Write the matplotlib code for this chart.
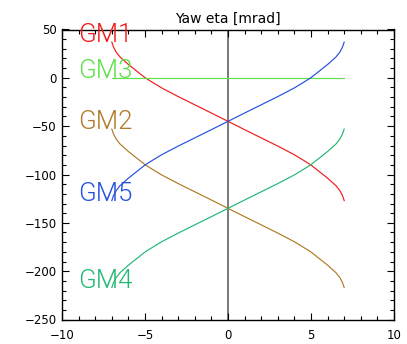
import matplotlib
matplotlib.use('Agg')
import matplotlib.pyplot as plt
from matplotlib.ticker import MultipleLocator

# sample positions along the eta axis
eta = [-7, -6.9, -6.75, -6.5, -6, -5.5, -5, -4.5, -4, -3, -2, -1, 0,
       1, 2, 3, 4, 4.5, 5, 5.5, 6, 6.5, 6.75, 6.9, 7]

gm1 = [37, 32, 27, 21.5, 13.8, 7, 0.2, -5.2, -10.4, -19.4, -27.9, -36.4, -45,
       -53.6, -62.1, -70.6, -79.6, -84.8, -90.2, -97, -103.8, -111.5, -117, -122, -127]
gm5 = [-127, -122, -117, -111.5, -103.8, -97, -90.2, -84.8, -79.6, -70.6, -62.1, -53.6, -45,
       -36.4, -27.9, -19.4, -10.4, -5.2, 0.2, 7, 13.8, 21.5, 27, 32, 37]
gm2 = [-53, -58, -63, -68.5, -76.2, -83, -89.8, -95.2, -100.4, -109.4, -117.9, -126.4, -135,
       -143.6, -152.1, -160.6, -169.6, -174.8, -180.2, -187, -193.8, -201.5, -207, -212, -217]
gm4 = [-217, -212, -207, -201.5, -193.8, -187, -180.2, -174.8, -169.6, -160.6, -152.1, -143.6, -135,
       -126.4, -117.9, -109.4, -100.4, -95.2, -89.8, -83, -76.2, -68.5, -63, -58, -53]
gm3 = [0] * len(eta)

names = ['GM1', 'GM3', 'GM2', 'GM5', 'GM4']
series = [gm1, gm3, gm2, gm5, gm4]
colors = ['#f01c1c', '#5ee04a', '#b07a28', '#2450e0', '#22b874']

plt.rcParams['font.family'] = ['DejaVu Sans']

fig = plt.figure(figsize=(4.07, 3.44), dpi=100)
ax = fig.add_axes([62 / 407, 24.5 / 344, 332 / 407, 290 / 344])

ax.axvline(0, color='#555555', lw=1.1, zorder=1)

for name, ys, c in zip(names, series, colors):
    ax.plot(eta, ys, color=c, lw=0.85, zorder=2)
    # label sits on the curve's starting value
    ax.text(-9.05, ys[0], name, color=c, fontsize=18.5, ha='left', va='baseline',
            family=['Roboto', 'DejaVu Sans'], fontweight=300, clip_on=False)

ax.set_xlim(-10, 10)
ax.set_ylim(-250, 50)
ax.xaxis.set_major_locator(MultipleLocator(5))
ax.xaxis.set_minor_locator(MultipleLocator(1))
ax.yaxis.set_major_locator(MultipleLocator(50))
ax.yaxis.set_minor_locator(MultipleLocator(10))

ax.tick_params(which='both', direction='in', top=True, right=True,
               labelsize=8.5, width=0.8, color='black')
ax.tick_params(which='major', length=5)
ax.tick_params(which='minor', length=3)
ax.tick_params(axis='x', pad=7)
ax.tick_params(axis='y', pad=4)
for sp in ax.spines.values():
    sp.set_linewidth(1.0)

ax.set_title('Yaw eta [mrad]', fontsize=10, pad=5)

fig.savefig('out.png', dpi=100)
